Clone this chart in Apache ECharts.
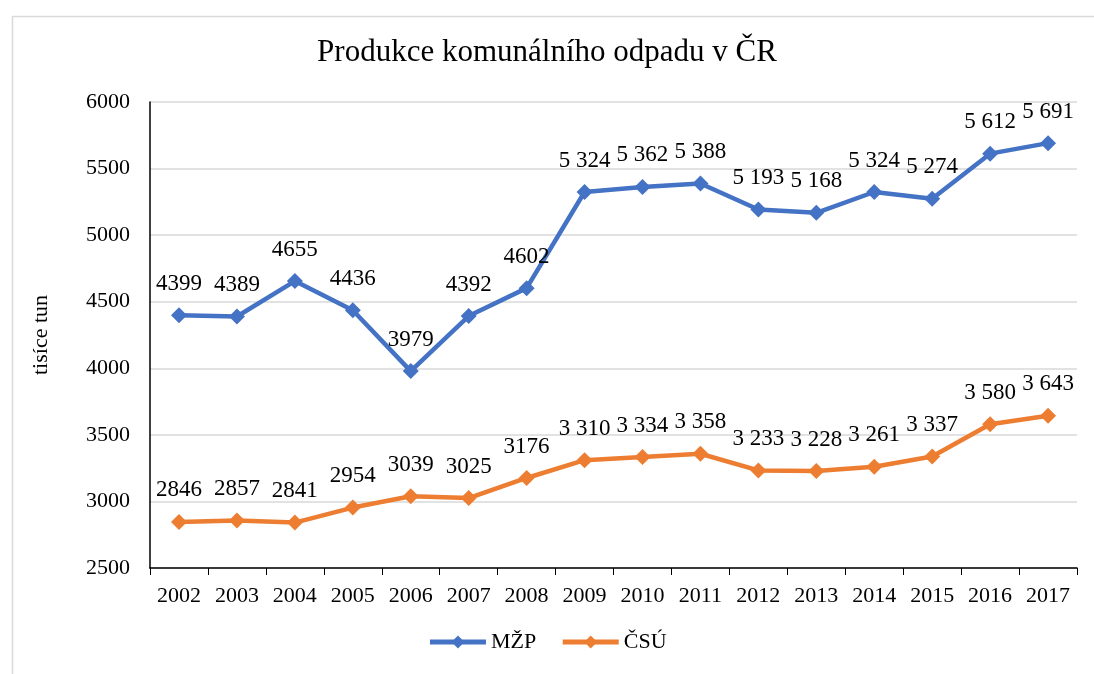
<!DOCTYPE html>
<html>
<head>
<meta charset="utf-8">
<script src="https://cdn.jsdelivr.net/npm/echarts@6/dist/echarts.min.js"></script>
<style>
  html, body { margin: 0; padding: 0; background: #fff; }
  #main { width: 1094px; height: 674px; }
</style>
</head>
<body>
<div id="main"></div>
<script>
var years = ['2002','2003','2004','2005','2006','2007','2008','2009','2010','2011','2012','2013','2014','2015','2016','2017'];
var mzp = [4399, 4389, 4655, 4436, 3979, 4392, 4602, 5324, 5362, 5388, 5193, 5168, 5324, 5274, 5612, 5691];
var csu = [2846, 2857, 2841, 2954, 3039, 3025, 3176, 3310, 3334, 3358, 3233, 3228, 3261, 3337, 3580, 3643];
// popisky jak v originale - od 2009 s mezerou
var mzpLabels = ['4399','4389','4655','4436','3979','4392','4602','5 324','5 362','5 388','5 193','5 168','5 324','5 274','5 612','5 691'];
var csuLabels = ['2846','2857','2841','2954','3039','3025','3176','3 310','3 334','3 358','3 233','3 228','3 261','3 337','3 580','3 643'];

var font = '"Liberation Serif", "Times New Roman", serif';

var chart = echarts.init(document.getElementById('main'));
var option = {
  backgroundColor: '#fff',
  textStyle: { fontFamily: font },
  graphic: [{
    type: 'rect',
    left: 10, top: 14,
    shape: { width: 1100, height: 700 },
    style: { fill: 'none', stroke: '#d9d9d9', lineWidth: 1.5 },
    silent: true
  }],
  title: {
    text: 'Produkce komunálního odpadu v ČR',
    left: 'center',
    top: 32,
    textStyle: { fontFamily: font, fontSize: 31, fontWeight: 'normal', color: '#000' }
  },
  legend: {
    bottom: 16,
    left: 'center',
    itemWidth: 56,
    itemHeight: 16,
    itemGap: 24,
    lineStyle: { width: 5 },
    textStyle: { fontFamily: font, fontSize: 22, color: '#000' },
    data: ['MŽP', 'ČSÚ']
  },
  grid: { left: 150, right: 17, top: 102, bottom: 106 },
  xAxis: {
    type: 'category',
    data: years,
    boundaryGap: true,
    axisLine: { lineStyle: { color: '#000', width: 1.5 } },
    axisTick: { show: true, alignWithLabel: false, length: 7, lineStyle: { color: '#000' } },
    axisLabel: { fontFamily: font, fontSize: 22, color: '#000', margin: 17 }
  },
  yAxis: {
    type: 'value',
    min: 2500,
    max: 6000,
    interval: 500,
    name: 'tisíce tun',
    nameLocation: 'middle',
    nameGap: 98,
    nameTextStyle: { fontFamily: font, fontSize: 22, color: '#000' },
    axisLine: { show: true, lineStyle: { color: '#000', width: 1.5 } },
    axisTick: { show: false },
    axisLabel: {
      fontFamily: font, fontSize: 22, color: '#000', margin: 20,
      formatter: function (v) { return String(v); }
    },
    splitLine: { lineStyle: { color: '#d9d9d9', width: 1.5 } }
  },
  series: [
    {
      name: 'MŽP',
      type: 'line',
      data: mzp,
      symbol: 'diamond',
      symbolSize: 16,
      lineStyle: { width: 4.5, color: '#4472c4' },
      itemStyle: { color: '#4472c4' },
      label: {
        show: true,
        position: 'top',
        distance: 12,
        fontFamily: font,
        fontSize: 23,
        color: '#000',
        formatter: function (p) { return mzpLabels[p.dataIndex]; }
      }
    },
    {
      name: 'ČSÚ',
      type: 'line',
      data: csu,
      symbol: 'diamond',
      symbolSize: 16,
      lineStyle: { width: 4.5, color: '#ed7d31' },
      itemStyle: { color: '#ed7d31' },
      label: {
        show: true,
        position: 'top',
        distance: 12,
        fontFamily: font,
        fontSize: 23,
        color: '#000',
        formatter: function (p) { return csuLabels[p.dataIndex]; }
      }
    }
  ]
};
chart.setOption(option);
</script>
</body>
</html>
